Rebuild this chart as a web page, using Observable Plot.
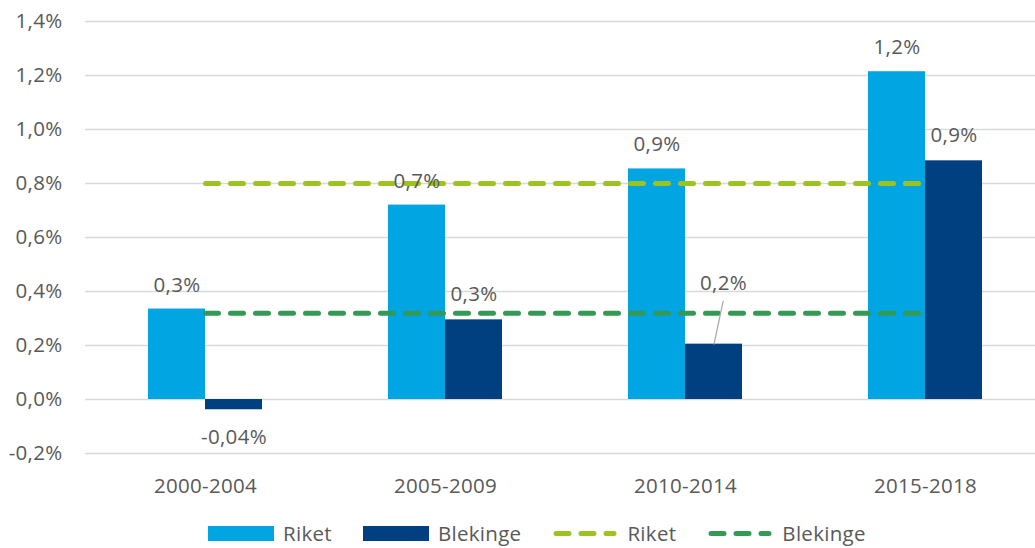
<!DOCTYPE html>
<html>
<head>
<meta charset="utf-8">
<script src="https://cdn.jsdelivr.net/npm/d3@7"></script>
<script src="https://cdn.jsdelivr.net/npm/@observablehq/plot@0.6"></script>
<style>
  html, body { margin: 0; padding: 0; background: #fff; }
  body { width: 1035px; height: 548px; overflow: hidden; font-family: "Open Sans", sans-serif; }
  #chart svg { display: block; }
  #legend { display: flex; align-items: center; margin-left: 208px; margin-top: 4px; height: 28px; color: #595959; font-size: 20.5px; letter-spacing: 0.3px; }
  .item { display: flex; align-items: center; margin-right: 31px; }
  .item span { margin-left: 9px; line-height: 1; }
  .box { width: 66px; height: 15px; }
</style>
</head>
<body>
<div id="chart"></div>
<div id="legend"></div>
<script>
const categories = ["2000-2004", "2005-2009", "2010-2014", "2015-2018"];
const riket = [0.335, 0.72, 0.854, 1.214];
const blekinge = [-0.038, 0.295, 0.205, 0.884];
const riketLabels = ["0,3%", "0,7%", "0,9%", "1,2%"];
const blekingeLabels = ["-0,04%", "0,3%", "0,2%", "0,9%"];
const riketAvg = 0.80;
const blekingeAvg = 0.319;
const yTicks = [-0.2, 0, 0.2, 0.4, 0.6, 0.8, 1.0, 1.2, 1.4];

const cRiket = "#00a5e2";
const cBlek = "#003f80";
const cRiketAvg = "#9cc31f";
const cBlekAvg = "#339955";
const textColor = "#595959";

const rows = categories.map((c, i) => ({
  cat: c, riket: riket[i], blekinge: blekinge[i],
  rl: riketLabels[i], bl: blekingeLabels[i],
  riketAvg, blekingeAvg
}));
const calloutCat = categories[2];

const chart = Plot.plot({
  width: 1035,
  height: 515,
  marginLeft: 85,
  marginRight: 0,
  marginTop: 21,
  marginBottom: 62,
  style: { fontFamily: "Open Sans, sans-serif", fontSize: "20.5px", color: textColor, letterSpacing: "0.3px", background: "#fff" },
  x: { type: "band", domain: categories, range: [85, 1045], padding: 0, label: null },
  y: { domain: [-0.2, 1.4], label: null },
  marks: [
    Plot.ruleY(yTicks, { stroke: "#d9d9d9", strokeWidth: 1.3 }),
    Plot.axisY({ ticks: yTicks, tickSize: 0, tickPadding: 23, tickFormat: d => d.toFixed(1).replace(".", ",") + "%", label: null, fill: textColor }),
    Plot.axisX({ tickSize: 0, tickPadding: 25, label: null, fill: textColor }),
    Plot.barY(rows, { x: "cat", y: "riket", fill: cRiket, insetLeft: 63, insetRight: 120 }),
    Plot.barY(rows, { x: "cat", y: "blekinge", fill: cBlek, insetLeft: 120, insetRight: 63 }),
    Plot.lineY(rows, { x: "cat", y: "riketAvg", stroke: cRiketAvg, strokeWidth: 5, strokeDasharray: "13,12", strokeLinecap: "round" }),
    Plot.lineY(rows, { x: "cat", y: "blekingeAvg", stroke: cBlekAvg, strokeWidth: 5, strokeDasharray: "13,12", strokeLinecap: "round" }),
    Plot.text(rows, { x: "cat", y: "riket", text: "rl", dx: -28.5, dy: -24, fill: textColor }),
    Plot.text(rows, { filter: d => d.blekinge >= 0 && d.cat !== calloutCat, x: "cat", y: "blekinge", text: "bl", dx: 28.5, dy: -25, fill: textColor }),
    Plot.text(rows, { filter: d => d.blekinge < 0, x: "cat", y: "blekinge", text: "bl", dx: 28.5, dy: 28, fill: textColor }),
    Plot.text(rows, { filter: d => d.cat === calloutCat, x: "cat", y: "blekinge", text: "bl", dx: 38, dy: -61, fill: textColor }),
    Plot.vector(rows, { filter: d => d.cat === calloutCat, x: "cat", y: "blekinge", dx: 28.5, length: 44, rotate: 12, anchor: "start", stroke: "#a6a6a6", strokeWidth: 1.2,
      shape: { draw(context, l) { context.moveTo(0, 0); context.lineTo(0, -l); } } })
  ]
});
document.getElementById("chart").appendChild(chart);

const legendItems = [
  { label: "Riket", type: "box", color: cRiket },
  { label: "Blekinge", type: "box", color: cBlek },
  { label: "Riket", type: "dash", color: cRiketAvg },
  { label: "Blekinge", type: "dash", color: cBlekAvg }
];
const legend = document.getElementById("legend");
for (const it of legendItems) {
  const div = document.createElement("div");
  div.className = "item";
  if (it.type === "box") {
    const b = document.createElement("div");
    b.className = "box";
    b.style.background = it.color;
    div.appendChild(b);
  } else {
    const svg = d3.create("svg").attr("width", 66).attr("height", 15);
    svg.append("line").attr("x1", 4).attr("x2", 62).attr("y1", 7.5).attr("y2", 7.5)
      .attr("stroke", it.color).attr("stroke-width", 5).attr("stroke-linecap", "round")
      .attr("stroke-dasharray", "13,12");
    div.appendChild(svg.node());
  }
  const s = document.createElement("span");
  s.textContent = it.label;
  div.appendChild(s);
  legend.appendChild(div);
}
</script>
</body>
</html>
